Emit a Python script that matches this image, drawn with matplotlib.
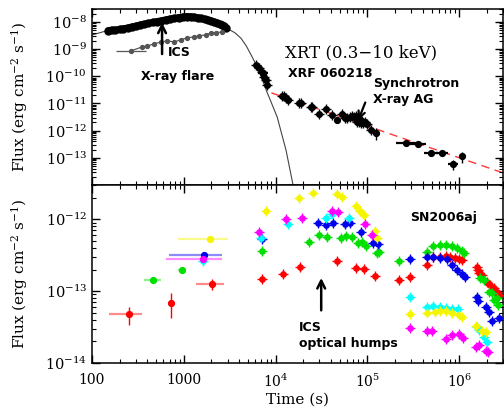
"""XRF 060218 / SN2006aj: XRT light curve (top) and UVOT optical/UV light curves (bottom)."""

import matplotlib

matplotlib.use("Agg")
import matplotlib.pyplot as plt
from matplotlib.ticker import LogLocator, NullFormatter

plt.rcParams["font.family"] = "DejaVu Serif"
plt.rcParams["mathtext.fontset"] = "dejavuserif"

# ---- top panel: XRT (0.3-10 keV) ----
FLARE_T = [150, 165, 180, 200, 220, 245, 270, 300, 330, 370, 410, 460, 510, 570, 640,
           710, 790, 880, 980, 1080, 1190, 1300, 1420, 1550, 1700, 1850, 2000, 2150,
           2300, 2450, 2600, 2750, 2900]
FLARE_F = [4.8e-9, 5.0e-9, 5.0e-9, 5.3e-9, 5.6e-9, 6.0e-9, 6.5e-9, 7.0e-9, 7.6e-9, 8.2e-9,
           8.9e-9, 9.6e-9, 1.03e-8, 1.1e-8, 1.2e-8, 1.28e-8, 1.36e-8, 1.45e-8, 1.52e-8,
           1.58e-8, 1.56e-8, 1.5e-8, 1.43e-8, 1.35e-8, 1.25e-8, 1.17e-8, 1.08e-8, 1.0e-8,
           9.2e-9, 8.4e-9, 7.6e-9, 6.8e-9, 6.0e-9]

MODEL_T = [100, 150, 250, 400, 650, 1000, 1500, 2200, 2900, 3600, 4200, 4800, 5500,
           6500, 8000, 10400, 13000, 15500]
MODEL_F = [3.3e-9, 4.9e-9, 6.3e-9, 8.8e-9, 1.2e-8, 1.5e-8, 1.45e-8, 1.05e-8, 6.0e-9,
           4.0e-9, 2.5e-9, 1.3e-9, 5.5e-10, 1.8e-10, 2.8e-11, 3.2e-12, 1.9e-13, 1.0e-14]

ICS_T = [266, 351, 398, 474, 565, 657, 783, 934, 1087, 1295, 1468, 1750, 1985, 2240, 2620]
ICS_F = [8.6e-10, 1.2e-9, 1.3e-9, 1.55e-9, 1.84e-9, 2.0e-9, 1.84e-9, 2.2e-9, 2.6e-9,
         2.8e-9, 3.1e-9, 3.3e-9, 4.0e-9, 4.0e-9, 4.3e-9]
ICS_FIRST_TLO = 182
ICS_FIRST_THI = 388

XRT_T = [6140, 6620, 7140, 7510, 7890, 8090, 11800, 12400, 13100, 13700, 18100, 19000,
         24400, 25100, 29900, 35600, 41400, 53200, 57400, 60400, 65100, 68500, 72000,
         75700, 77600, 79000, 81600, 83000, 85800, 88000, 90200, 94900, 99800, 110000]
XRT_F = [2.6e-10, 2.0e-10, 1.45e-10, 9.5e-11, 7.4e-11, 4.8e-11, 1.9e-11, 1.85e-11,
         1.6e-11, 1.36e-11, 1.05e-11, 1.0e-11, 7.5e-12, 7.2e-12, 4.15e-12, 6.3e-12,
         3.8e-12, 4.0e-12, 3.0e-12, 3.0e-12, 3.2e-12, 3.4e-12, 3.2e-12, 3.6e-12, 2.1e-12,
         2.6e-12, 2.0e-12, 2.4e-12, 1.95e-12, 2.2e-12, 1.9e-12, 2.0e-12, 1.8e-12, 1.07e-12]

XRT_BAR_T = [7300, 47000, 125000, 266000, 359000, 498000, 656000, 865000, 1060000]
XRT_BAR_F = [1.3e-10, 2.5e-12, 8.3e-13, 3.56e-13, 3.3e-13, 1.53e-13, 1.53e-13, 6.0e-14, 1.18e-13]
XRT_BAR_TLO = [6430, 46000, 122000, 207000, 294000, 418000, 565000, 763000, 1040000]
XRT_BAR_THI = [8290, 48000, 128000, 342000, 438000, 594000, 761000, 981000, 1080000]
XRT_BAR_FLO = [1.15e-10, 1.9e-12, 4.5e-13, 3.1e-13, 2.9e-13, 1.3e-13, 1.3e-13, 3.6e-14, 6.6e-14]
XRT_BAR_FHI = [1.45e-10, 3.3e-12, 1.2e-12, 4.0e-13, 3.7e-13, 1.8e-13, 1.8e-13, 8.4e-14, 1.66e-13]

AG_FIT_T = [9000, 2.9e6]
AG_FIT_F = [2.45e-11, 2.9e-14]

# ---- bottom panel: UVOT bands of SN2006aj ----
UV_EARLY_COLOR = ["#ff0000", "#ff0000", "#ff0000", "#00e000", "#00e000", "#0000ee",
                  "#ff00ff", "#f5f500"]
UV_EARLY_T = [253, 727, 2040, 463, 957, 1660, 1620, 1940]
UV_EARLY_F = [4.8e-14, 6.8e-14, 1.25e-13, 1.42e-13, 1.96e-13, 3.16e-13, 2.78e-13, 5.3e-13]
UV_EARLY_TLO = [153, 700, 1360, 369, 870, 692, 641, 867]
UV_EARLY_THI = [351, 755, 2760, 565, 1050, 2620, 2620, 3040]
UV_EARLY_FLO = [3.37e-14, 4.2e-14, 1.03e-13, 1.3e-13, 1.8e-13, 3.0e-13, 2.6e-13, 5.0e-13]
UV_EARLY_FHI = [6.0e-14, 9.4e-14, 1.47e-13, 1.55e-13, 2.15e-13, 3.3e-13, 2.95e-13, 5.6e-13]

RED_T = [7150, 12100, 18500, 47000, 75700, 92500, 122000, 223000, 294000, 450000, 523000,
         624000, 725000, 801000, 909000, 1.0e6, 1.08e6, 1.55e6, 1.62e6, 1.66e6, 1.79e6,
         2.03e6, 2.19e6, 2.42e6, 2.55e6, 2.74e6]
RED_F = [1.47e-13, 1.72e-13, 2.15e-13, 2.6e-13, 2.08e-13, 2.02e-13, 1.62e-13, 1.42e-13,
         1.56e-13, 2.30e-13, 2.96e-13, 2.96e-13, 3.06e-13, 2.96e-13, 2.87e-13, 2.78e-13,
         2.7e-13, 2.15e-13, 2.0e-13, 1.78e-13, 1.67e-13, 1.33e-13, 1.21e-13, 1.1e-13,
         9.7e-14, 8.8e-14]

GREEN_T = [7150, 23200, 29900, 36500, 51900, 58900, 68500, 79600, 88000, 97300, 128000,
           135000, 223000, 450000, 523000, 624000, 725000, 843000, 956000, 1.08e6, 1.14e6,
           1.70e6, 1.88e6, 2.13e6, 2.30e6, 2.42e6, 2.55e6, 2.68e6]
GREEN_F = [3.6e-13, 4.8e-13, 6.0e-13, 5.6e-13, 5.45e-13, 5.8e-13, 5.6e-13, 4.65e-13,
           4.8e-13, 4.2e-13, 3.4e-13, 3.5e-13, 2.6e-13, 3.5e-13, 4.2e-13, 4.35e-13,
           4.35e-13, 4.2e-13, 3.95e-13, 3.6e-13, 3.4e-13, 1.52e-13, 1.42e-13, 9.7e-14,
           9.4e-14, 7.5e-14, 8.0e-14, 6.4e-14]

BLUE_T = [7150, 29200, 35600, 42500, 57400, 65100, 85800, 116000, 131000, 294000, 450000,
          523000, 624000, 743000, 843000, 956000, 1.08e6, 1.17e6, 1.56e6, 1.60e6, 1.98e6,
          2.13e6, 2.30e6, 2.74e6]
BLUE_F = [5.3e-13, 8.8e-13, 8.3e-13, 8.8e-13, 8.5e-13, 8.8e-13, 6.6e-13, 4.65e-13, 4.5e-13,
          2.78e-13, 2.96e-13, 2.96e-13, 2.87e-13, 2.78e-13, 2.30e-13, 1.96e-13, 1.72e-13,
          1.56e-13, 8.3e-14, 7.3e-14, 6.0e-14, 5.1e-14, 3.9e-14, 4.3e-14]

MAGENTA_T = [6620, 13100, 19500, 41400, 48200, 94900, 113000, 294000, 450000, 510000,
             725000, 843000, 1.0e6, 1.11e6, 1.54e6, 1.66e6, 1.98e6, 2.08e6]
MAGENTA_F = [6.6e-13, 1.0e-12, 1.03e-12, 1.29e-12, 1.25e-12, 8.5e-13, 6.0e-13, 3.06e-14,
             2.78e-14, 2.78e-14, 2.15e-14, 2.45e-14, 2.53e-14, 2.22e-14, 1.67e-14,
             1.78e-14, 1.47e-14, 1.42e-14]

CYAN_T = [1620, 6970, 13700, 35600, 41400, 63500, 294000, 450000, 523000, 624000, 725000,
          843000, 980000, 1.58e6, 1.66e6, 1.88e6, 2.03e6]
CYAN_F = [2.6e-13, 5.45e-13, 8.5e-13, 1.03e-12, 1.17e-12, 1.03e-12, 8.3e-14, 6.0e-14,
          6.2e-14, 6.0e-14, 5.8e-14, 5.6e-14, 5.6e-14, 3.16e-14, 2.87e-14, 2.30e-14, 1.96e-14]

YELLOW_T = [7890, 18100, 25700, 47000, 53200, 75700, 83700, 92500, 122000, 128000, 294000,
            450000, 540000, 624000, 725000, 843000, 1.0e6, 1.08e6, 1.54e6, 1.75e6, 1.98e6]
YELLOW_F = [1.29e-12, 1.96e-12, 2.30e-12, 2.22e-12, 2.02e-12, 1.52e-12, 1.29e-12, 1.14e-12,
            6.8e-13, 5.45e-13, 4.8e-14, 4.95e-14, 5.1e-14, 5.3e-14, 5.3e-14, 4.95e-14,
            4.65e-14, 4.35e-14, 3.27e-14, 2.78e-14, 2.7e-14]

X_TICKS = [1e2, 1e3, 1e4, 1e5, 1e6]
X_TICK_LABELS = ["100", "1000", r"$10^{4}$", r"$10^{5}$", r"$10^{6}$"]
TOP_Y_TICKS = [1e-13, 1e-12, 1e-11, 1e-10, 1e-9, 1e-8]
BOTTOM_Y_TICKS = [1e-14, 1e-13, 1e-12]
FLUX_LABEL = r"Flux (erg cm$^{-2}$ s$^{-1}$)"
NOTE_FONT = dict(family="DejaVu Sans", weight="bold", fontsize=9)


def _style_axis(ax, yticks):
    ax.set_xscale("log")
    ax.set_yscale("log")
    ax.tick_params(which="both", direction="in", top=True, right=True, labelsize=10)
    ax.tick_params(which="major", length=6, width=1)
    ax.tick_params(which="minor", length=3, width=0.8)
    ax.tick_params(axis="x", pad=7)
    ax.tick_params(axis="y", labelsize=10.5)
    ax.xaxis.set_minor_locator(LogLocator(base=10, subs=range(2, 10), numticks=20))
    ax.yaxis.set_minor_locator(LogLocator(base=10, subs=range(2, 10), numticks=20))
    ax.xaxis.set_minor_formatter(NullFormatter())
    ax.yaxis.set_minor_formatter(NullFormatter())
    ax.set_xticks(X_TICKS, labels=X_TICK_LABELS)
    ax.set_yticks(yticks)
    for spine in ax.spines.values():
        spine.set_linewidth(1.1)


def _points(ax, t, f, color, ms=3.8):
    # filled dot with a small cross standing in for the error bars
    ax.plot(t, f, "o", color=color, ms=ms, mec=color, zorder=3)
    ax.plot(t, f, "+", color=color, ms=7, mew=1.0, zorder=3)


def _bars(ax, t, f, tlo, thi, flo, fhi, color, alpha=1.0):
    xerr = [[a - b for a, b in zip(t, tlo)], [b - a for a, b in zip(t, thi)]]
    yerr = [[a - b for a, b in zip(f, flo)], [b - a for a, b in zip(f, fhi)]]
    ax.errorbar(t, f, xerr=xerr, fmt="none", ecolor=color, elinewidth=1.6, alpha=alpha,
                zorder=2)
    ax.errorbar(t, f, yerr=yerr, fmt="o", color=color, ms=4.2, mec=color,
                elinewidth=1.0, zorder=3)


def main() -> None:
    fig = plt.figure(figsize=(5.04, 4.07), dpi=100)
    ax1 = fig.add_axes([0.1825, 0.5455, 0.8155, 0.4325])
    ax2 = fig.add_axes([0.1825, 0.108, 0.8155, 0.4375])

    # top panel
    _style_axis(ax1, TOP_Y_TICKS)
    ax1.plot(MODEL_T, MODEL_F, color="#444444", lw=0.8, zorder=1)
    ax1.plot(FLARE_T, FLARE_F, color="black", lw=5.0, solid_capstyle="round", zorder=2)
    ax1.plot(FLARE_T, FLARE_F, "o", color="black", ms=5.0, zorder=2)
    ax1.plot(ICS_T, ICS_F, "o-", color="#555555", ms=2.8, lw=0.9, zorder=2)
    ax1.errorbar(ICS_T[0], ICS_F[0],
                 xerr=[[ICS_T[0] - ICS_FIRST_TLO], [ICS_FIRST_THI - ICS_T[0]]],
                 fmt="none", ecolor="#555555", elinewidth=0.9)
    ax1.plot(AG_FIT_T, AG_FIT_F, color="#ff3838", lw=1.0, dashes=(6, 4), zorder=1)
    _points(ax1, XRT_T, XRT_F, "black", ms=4.0)
    _bars(ax1, XRT_BAR_T, XRT_BAR_F, XRT_BAR_TLO, XRT_BAR_THI, XRT_BAR_FLO, XRT_BAR_FHI,
          "black")
    ax1.set_xlim(100, 3e6)
    ax1.set_ylim(1e-14, 3e-8)
    ax1.tick_params(labelbottom=False)
    ax1.set_ylabel(FLUX_LABEL, fontsize=11)
    ax1.yaxis.set_label_coords(-0.15, 0.5)

    ax1.annotate("", xy=(580, 1.2e-8), xytext=(580, 5.2e-10),
                 arrowprops=dict(arrowstyle="->", lw=1.8, color="black", mutation_scale=14))
    ax1.text(0.185, 0.75, "ICS", transform=ax1.transAxes, va="center", **NOTE_FONT)
    ax1.text(0.209, 0.619, "X-ray flare", transform=ax1.transAxes, ha="center",
             va="center", **NOTE_FONT)
    ax1.text(0.47, 0.75, "XRT (0.3\u221210 keV)", transform=ax1.transAxes, va="center",
             fontsize=12)
    ax1.text(0.477, 0.636, "XRF 060218", transform=ax1.transAxes, va="center", **NOTE_FONT)
    ax1.text(0.684, 0.531, "Synchrotron\nX-ray AG", transform=ax1.transAxes, va="center",
             linespacing=1.25, **NOTE_FONT)
    ax1.annotate("", xy=(77600, 1.95e-12), xytext=(97300, 1.35e-11),
                 arrowprops=dict(arrowstyle="->", lw=1.6, color="black", mutation_scale=12))

    # bottom panel
    _style_axis(ax2, BOTTOM_Y_TICKS)
    for t, f, color in (
        (RED_T, RED_F, "#ff0000"),
        (GREEN_T, GREEN_F, "#00e000"),
        (BLUE_T, BLUE_F, "#0000ee"),
        (CYAN_T, CYAN_F, "#00ffff"),
        (YELLOW_T, YELLOW_F, "#f5f500"),
        (MAGENTA_T, MAGENTA_F, "#ff00ff"),
    ):
        _points(ax2, t, f, color)
    for i, color in enumerate(UV_EARLY_COLOR):
        _bars(ax2, [UV_EARLY_T[i]], [UV_EARLY_F[i]], [UV_EARLY_TLO[i]], [UV_EARLY_THI[i]],
              [UV_EARLY_FLO[i]], [UV_EARLY_FHI[i]], color, alpha=0.45)
    ax2.set_xlim(100, 3e6)
    ax2.set_ylim(1e-14, 3e-12)
    ax2.set_xlabel("Time (s)", fontsize=11, labelpad=2)
    ax2.set_ylabel(FLUX_LABEL, fontsize=11)
    ax2.yaxis.set_label_coords(-0.15, 0.5)

    ax2.text(0.774, 0.82, "SN2006aj", transform=ax2.transAxes, va="center", **NOTE_FONT)
    ax2.text(0.504, 0.154, "ICS\noptical humps", transform=ax2.transAxes, va="center",
             linespacing=1.3, **NOTE_FONT)
    ax2.annotate("", xy=(31400, 1.67e-13), xytext=(31400, 4.95e-14),
                 arrowprops=dict(arrowstyle="->", lw=1.8, color="black", mutation_scale=14))

    fig.savefig("out.png", dpi=100)
    plt.close(fig)


if __name__ == "__main__":
    main()
